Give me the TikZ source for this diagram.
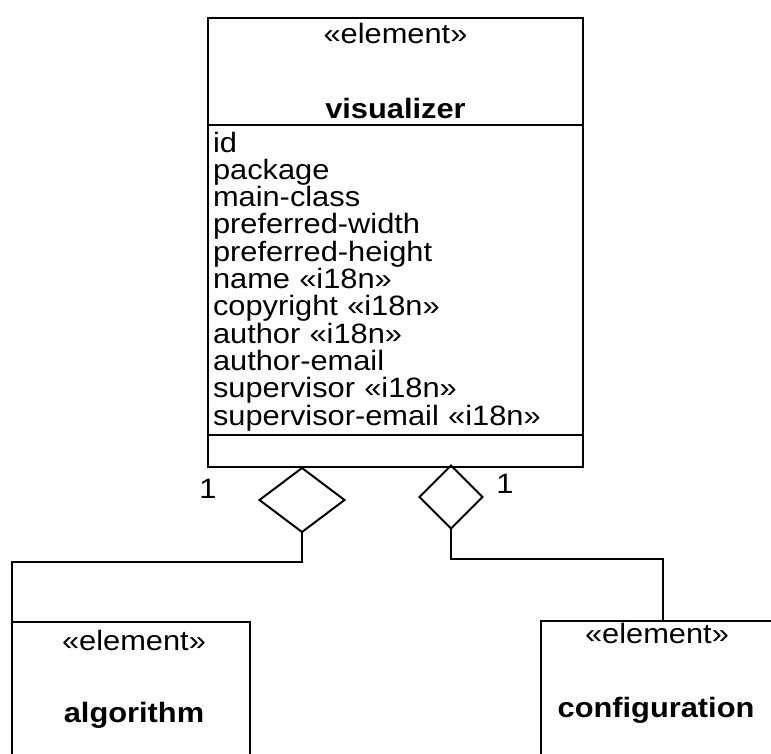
\documentclass[tikz,border=0pt]{standalone}
\usepackage{fontspec}
\setmainfont[FakeStretch=1.1]{Liberation Sans}
\usetikzlibrary{shapes.geometric,positioning}

\begin{document}
\begin{tikzpicture}[x=1pt,y=-1pt,line width=2pt,
		class node/.style={rectangle,draw,inner sep=0pt,outer sep=0pt,minimum width=375pt},
		elem node/.style={rectangle,draw,inner sep=0pt,outer sep=0pt,minimum height=160pt},
		text node/.style={rectangle,inner sep=0pt,font=\fontsize{28}{27.3}\selectfont},
		agg node/.style={diamond,draw,inner sep=0pt,outer sep=0pt}]
		
		\useasboundingbox (0,0) rectangle (771,753);
		\clip (0,0) rectangle (771,753);
		
		% visualizer class
		\node[class node,minimum height=107pt] (head) at (395.5,71.5) {};
		\node[class node,minimum height=310pt,below=0pt of head] (attrs) {};
		\node[class node,minimum height=32pt,below=0pt of attrs] (ops) {};
		\node[text node,anchor=base] (stereo) at (395.5,43) {«element»};
		\node[text node,anchor=base] (vis) at (395.5,118) {\bfseries visualizer};
		\node[text node,anchor=base west,text width=360pt,align=left] (list) at (212,152)
		{id\\package\\main-class\\preferred-width\\preferred-height\\name «i18n»\\copyright «i18n»\\author «i18n»\\author-email\\supervisor «i18n»\\supervisor-email «i18n»};
		
		% aggregations
		\node[agg node,minimum width=85pt,minimum height=64pt] (aggA) at (302,500) {};
		\node[agg node,minimum width=63pt,minimum height=63pt] (aggB) at (451,497) {};
		\node[text node,anchor=base] (multA) at (208,498) {1};
		\node[text node,anchor=base] (multB) at (505,493) {1};
		
		% parts
		\node[elem node,minimum width=238pt,anchor=north] (algo) at (131,622) {};
		\node[text node,anchor=base] (algoStereo) at (134,650) {«element»};
		\node[text node,anchor=base] (algoName) at (134,722) {\bfseries algorithm};
		\node[elem node,minimum width=232pt,anchor=north] (conf) at (657,621) {};
		\node[text node,anchor=base] (confStereo) at (657,643) {«element»};
		\node[text node,anchor=base] (confName) at (656,717) {\bfseries configuration};
		
		\draw (aggA.south) -- ++(0,30) -| (algo.north west);
		\draw (aggB.south) -- ++(0,30) -| ([xshift=6pt]conf.north);
		
\end{tikzpicture}
\end{document}
